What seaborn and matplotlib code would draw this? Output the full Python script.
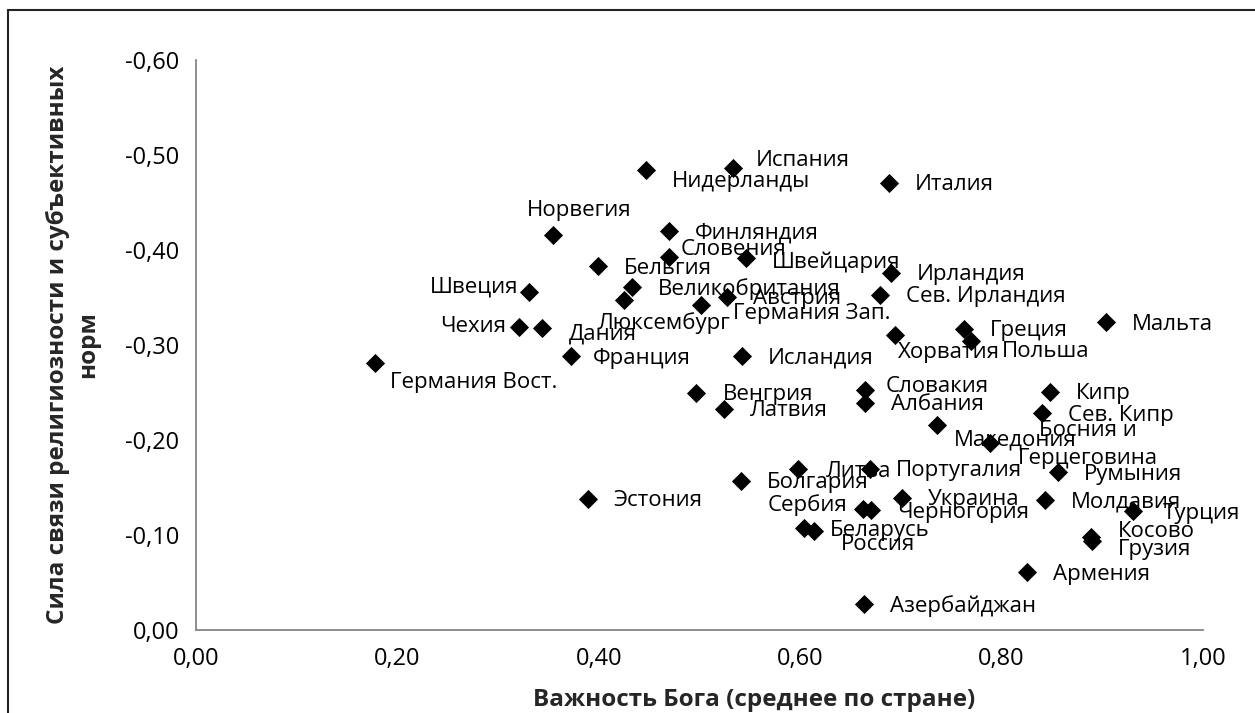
import numpy as np
import pandas as pd
import matplotlib
matplotlib.use("Agg")
import matplotlib.pyplot as plt
import seaborn as sns
from matplotlib.ticker import FuncFormatter, MultipleLocator
from matplotlib.lines import Line2D

# data
countries = ["Германия Вост.", "Чехия", "Дания", "Швеция", "Норвегия", "Нидерланды",
             "Испания", "Финляндия", "Словения", "Швейцария", "Бельгия", "Великобритания",
             "Люксембург", "Австрия", "Германия Зап.", "Италия", "Ирландия", "Сев. Ирландия",
             "Хорватия", "Греция", "Польша", "Мальта", "Франция", "Исландия", "Венгрия",
             "Латвия", "Словакия", "Албания", "Кипр", "Сев. Кипр", "Македония",
             "Босния и\nГерцеговина", "Румыния", "Эстония", "Болгария", "Литва", "Португалия",
             "Сербия", "Черногория", "Украина", "Беларусь", "Россия", "Азербайджан",
             "Молдавия", "Турция", "Косово", "Грузия", "Армения"]
god_importance = [0.178, 0.321, 0.344, 0.331, 0.355, 0.447, 0.533, 0.470, 0.470, 0.546,
                  0.399, 0.433, 0.425, 0.527, 0.501, 0.688, 0.690, 0.679, 0.694, 0.763,
                  0.770, 0.904, 0.372, 0.542, 0.497, 0.524, 0.664, 0.664, 0.848, 0.840,
                  0.736, 0.788, 0.856, 0.389, 0.541, 0.598, 0.669, 0.662, 0.670, 0.701,
                  0.604, 0.614, 0.663, 0.843, 0.930, 0.889, 0.890, 0.825]
link_strength = [-0.281, -0.319, -0.318, -0.356, -0.416, -0.484, -0.486, -0.420, -0.393, -0.392,
                 -0.383, -0.361, -0.347, -0.351, -0.342, -0.471, -0.376, -0.353, -0.311, -0.317,
                 -0.304, -0.324, -0.288, -0.288, -0.250, -0.233, -0.253, -0.239, -0.251, -0.228,
                 -0.216, -0.197, -0.166, -0.138, -0.157, -0.170, -0.170, -0.127, -0.126, -0.139,
                 -0.107, -0.104, -0.027, -0.137, -0.125, -0.098, -0.094, -0.061]

df = pd.DataFrame({"x": god_importance, "y": link_strength, "name": countries})

# label placement (pixels right / down from the point, alignment)
label_pos = {
    "Германия Вост.": (15, 19, "left"), "Чехия": (-13, 0, "right"), "Дания": (26, 6, "left"),
    "Швеция": (-11, -5, "right"), "Норвегия": (26, -24, "center"), "Нидерланды": (26, 11, "left"),
    "Испания": (23, -8, "left"), "Словения": (11, -7, "left"), "Люксембург": (40, 23, "center"),
    "Германия Зап.": (32, 8, "left"), "Хорватия": (3, 18, "left"), "Польша": (30, 10, "left"),
    "Словакия": (21, -3, "left"), "Македония": (17, 15, "left"),
    "Босния и\nГерцеговина": (98, 2, "center"), "Сербия": (-15, -4, "right"),
    "Россия": (27, 13, "left"), "Косово": (27, -5, "left"), "Грузия": (26, 9, "left"),
    "Франция": (22, 2, "left"), "Турция": (30, 2, "left"), "Литва": (28, 3, "left"),
    "Швейцария": (26, 5, "left"),
}

sns.set_style("white")
plt.rcParams['font.family'] = ['Open Sans', 'DejaVu Sans']

fig = plt.figure(figsize=(12.55, 7.13), dpi=100)
ax = fig.add_axes([196/1255, 1 - 630/713, 1007/1255, 570/713])

sns.scatterplot(data=df, x="x", y="y", marker="D", color="black", s=95, linewidth=0, ax=ax, zorder=3)

for _, r in df.iterrows():
    dx, dy, ha = label_pos.get(r["name"], (26, 2, "left"))
    ax.annotate(r["name"], (r["x"], r["y"]), xytext=(dx, -dy), textcoords="offset pixels",
                ha=ha, va="center", fontsize=16, color="black", linespacing=1.45,
                annotation_clip=False)

ax.set_xlim(0, 1)
ax.set_ylim(0, -0.6)
ax.xaxis.set_major_locator(MultipleLocator(0.2))
ax.yaxis.set_major_locator(MultipleLocator(0.1))
fmt = FuncFormatter(lambda v, p: ("%.2f" % (0.0 if abs(v) < 1e-9 else v)).replace(".", ","))
ax.xaxis.set_major_formatter(fmt)
ax.yaxis.set_major_formatter(fmt)

for s in ["top", "right"]:
    ax.spines[s].set_visible(False)
for s in ["left", "bottom"]:
    ax.spines[s].set_color("#868686")
    ax.spines[s].set_linewidth(1.3)
ax.tick_params(axis="both", direction="out", length=6, width=1.3, color="#868686",
               labelsize=17, labelcolor="black", pad=6)
ax.tick_params(axis="x", pad=6)

ax.set_xlabel("")
ax.set_ylabel("")
fig.text(754/1255, 1 - 700/713, "Важность Бога (среднее по стране)", ha="center", va="center",
         fontsize=17.5, fontweight="bold")
fig.text(73/1255, 1 - 345/713, "Сила связи религиозности и субъективных\nнорм", ha="center",
         va="center", rotation=90, fontsize=17.5, fontweight="bold", linespacing=1.3)

# outer chart frame
fig.add_artist(Line2D([8/1255, 8/1255], [1 - 10/713, -0.05], color="#222222", lw=1.5))
fig.add_artist(Line2D([8/1255, 1.05], [1 - 10/713, 1 - 10/713], color="#222222", lw=1.5))

fig.savefig("out.png", dpi=100)
